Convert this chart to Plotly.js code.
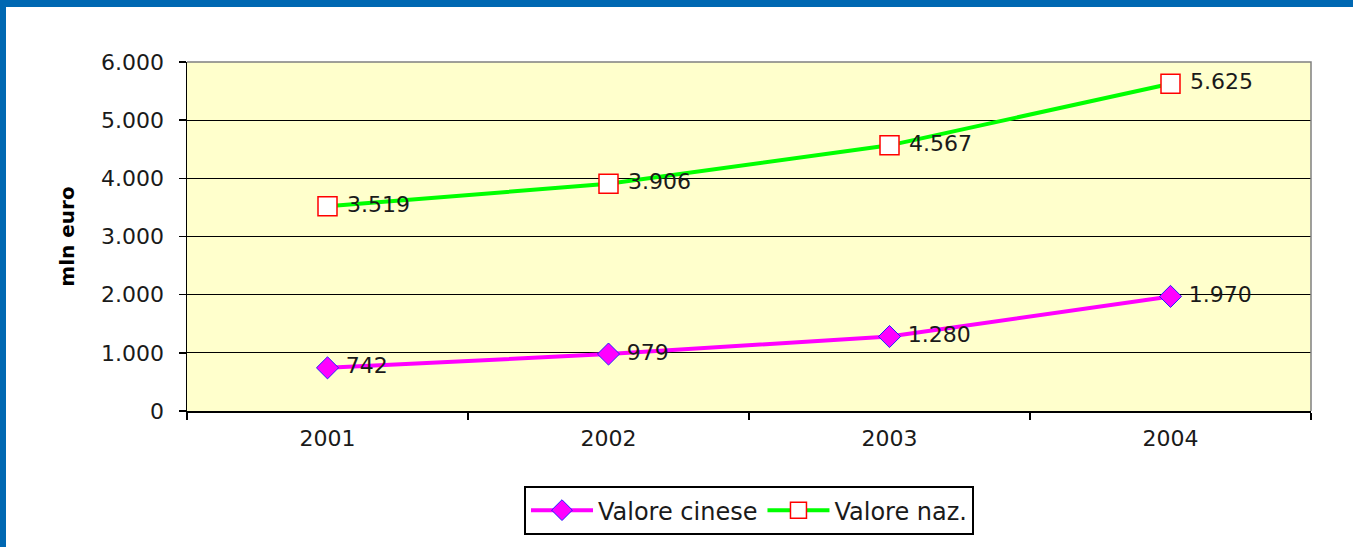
<!DOCTYPE html>
<html>
<head>
<meta charset="utf-8">
<script src="https://cdn.plot.ly/plotly-3.0.1.min.js"></script>
<style>
html,body{margin:0;padding:0;background:#fff;overflow:hidden;}
#wrap{position:relative;width:1353px;height:547px;}
#chart{position:absolute;left:0;top:0;width:1353px;height:547px;}
#btop{position:absolute;left:0;top:0;width:1353px;height:7px;background:#0068B2;z-index:5;}
#bleft{position:absolute;left:0;top:0;width:6px;height:547px;background:#0068B2;z-index:5;}
</style>
</head>
<body>
<div id="wrap">
<div id="chart"></div>
<div id="btop"></div>
<div id="bleft"></div>
</div>
<script>
const years = ['2001', '2002', '2003', '2004'];
const valoreCinese = [742, 979, 1280, 1970];
const valoreNaz = [3519, 3906, 4567, 5625];
const yTicks = [0, 1000, 2000, 3000, 4000, 5000, 6000];

function fmt(v) {
  return String(v).replace(/\B(?=(\d{3})+(?!\d))/g, '.');
}
function lbl(v) {
  return '\u2009\u200A' + fmt(v);
}

const FONT = 'DejaVu Sans, Arial, sans-serif';
const TXT = '#1a1a1a';

const traces = [
  {
    x: years, y: valoreCinese, name: 'Valore cinese', type: 'scatter', mode: 'lines+markers+text',
    line: {color: '#FF00FF', width: 4},
    marker: {symbol: 'diamond', size: 17, color: '#FF00FF', line: {color: '#2020FF', width: 1}},
    text: valoreCinese.map(lbl), textposition: 'middle right',
    textfont: {family: FONT, size: 22, color: TXT},
    cliponaxis: false
  },
  {
    x: years, y: valoreNaz, name: 'Valore naz.', type: 'scatter', mode: 'lines+markers+text',
    line: {color: '#00FF00', width: 4},
    marker: {symbol: 'square', size: 19, color: '#FFFFFF', line: {color: '#FF0000', width: 1.5}},
    text: valoreNaz.map(lbl), textposition: 'middle right',
    textfont: {family: FONT, size: 22, color: TXT},
    cliponaxis: false
  }
];

const layout = {
  width: 1353, height: 547,
  margin: {l: 187, r: 42, t: 62, b: 136},
  paper_bgcolor: '#FFFFFF',
  plot_bgcolor: '#FFFFCC',
  font: {family: FONT, size: 22, color: TXT},
  showlegend: true,
  legend: {
    orientation: 'h', x: 0.5, xanchor: 'center', y: -0.215, yanchor: 'top',
    bgcolor: '#FFFFFF', bordercolor: '#000000', borderwidth: 2,
    font: {family: FONT, size: 24, color: TXT},
    itemwidth: 62
  },
  xaxis: {
    type: 'category', range: [-0.5, 3.5],
    tickson: 'boundaries', ticks: 'outside', ticklen: 7, tickcolor: '#000', tickwidth: 1.5,
    showline: true, linecolor: '#000', linewidth: 1.5,
    showgrid: false, zeroline: false,
    tickfont: {family: FONT, size: 22, color: TXT},
    ticklabelstandoff: 7,
    fixedrange: true
  },
  yaxis: {
    range: [0, 6000],
    tickvals: yTicks, ticktext: yTicks.map(fmt),
    ticks: 'outside', ticklen: 7, tickcolor: '#000', tickwidth: 1.5,
    showline: true, linecolor: '#000', linewidth: 1.5,
    showgrid: true, gridcolor: '#000', gridwidth: 1,
    zeroline: false,
    tickfont: {family: FONT, size: 22, color: TXT},
    ticklabelstandoff: 10,
    title: {text: '<b>mln euro</b>', font: {family: FONT, size: 20, color: '#000'}, standoff: 21},
    fixedrange: true
  },
  shapes: [
    {type: 'path', xref: 'paper', yref: 'paper', path: 'M0,1 L1,1 L1,0', line: {color: '#808080', width: 1.5}, layer: 'above'}
  ]
};

Plotly.newPlot('chart', traces, layout, {displayModeBar: false, staticPlot: true});
</script>
</body>
</html>
